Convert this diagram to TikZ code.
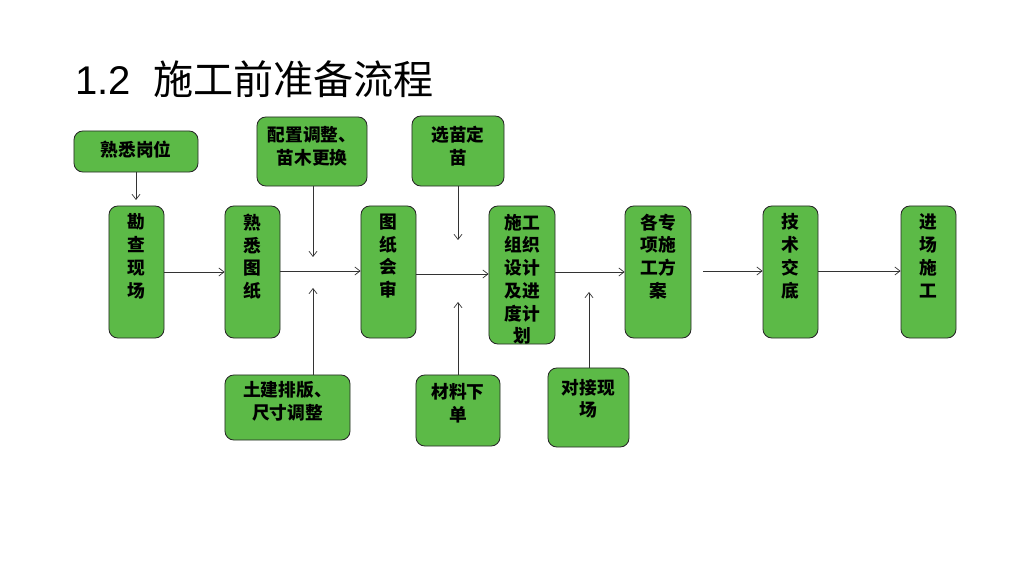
\documentclass[tikz,border=0pt]{standalone}
\usepackage{fontspec}
\setmainfont{Liberation Sans}
\newfontfamily\cjk{Noto Sans CJK SC}
\usetikzlibrary{arrows.meta, positioning}
\definecolor{boxgreen}{RGB}{92,186,71}
\tikzset{
  stepbox/.style n args={2}{
    rectangle, rounded corners=0.22cm,
    minimum width=#1, minimum height=#2,
    draw=black!85, line width=0.6pt, fill=boxgreen
  },
  boxtext/.style={
    anchor=north, align=center, inner sep=0pt,
    font=\cjk\bfseries\fontsize{12.6}{16.2}\selectfont, text=black
  },
  arr/.style={-{Straight Barb[length=1.3mm, width=2mm]}, line width=0.5pt, draw=black!80},
}

\begin{document}
\begin{tikzpicture}[x=0.025cm, y=-0.025cm]
    \useasboundingbox (0,0) rectangle (1024,576);

    % title
    \node[anchor=base west, inner sep=0pt, font=\fontsize{28.5}{34}\selectfont] (title) at (75,95)
         {1.2\ \ {\cjk 施工前准备流程}};

    % main row
    \node[stepbox={1.375cm}{3.3cm}]  (kancha)  at (136.5,272) {};
    \node[stepbox={1.375cm}{3.3cm}]  (shutu)   at (252.5,272) {};
    \node[stepbox={1.375cm}{3.3cm}]  (huishen) at (388.5,272) {};
    \node[stepbox={1.65cm}{3.45cm}]  (zuzhi)   at (522,275)   {};
    \node[stepbox={1.65cm}{3.3cm}]   (fangan)  at (658,272)   {};
    \node[stepbox={1.375cm}{3.3cm}]  (jiaodi)  at (790.5,272) {};
    \node[stepbox={1.375cm}{3.3cm}]  (jinchang) at (928.5,272) {};

    \node[boxtext] (kanchaT)   at ([yshift=-0.2cm]kancha.north)   {勘\\查\\现\\场};
    \node[boxtext] (shutuT)    at ([yshift=-0.2cm]shutu.north)    {熟\\悉\\图\\纸};
    \node[boxtext] (huishenT)  at ([yshift=-0.2cm]huishen.north)  {图\\纸\\会\\审};
    \node[boxtext] (zuzhiT)    at ([yshift=-0.2cm]zuzhi.north)    {施工\\组织\\设计\\及进\\度计\\划};
    \node[boxtext] (fanganT)   at ([yshift=-0.2cm]fangan.north)   {各专\\项施\\工方\\案};
    \node[boxtext] (jiaodiT)   at ([yshift=-0.2cm]jiaodi.north)   {技\\术\\交\\底};
    \node[boxtext] (jinchangT) at ([yshift=-0.2cm]jinchang.north) {进\\场\\施\\工};

    % side boxes
    \node[stepbox={3.1cm}{1.025cm}]   (gangwei) at (136,151.5) {};
    \node[stepbox={2.75cm}{1.725cm}]  (peizhi)  at (312,151.5) {};
    \node[stepbox={2.3cm}{1.75cm}]    (xuanmiao) at (458,151)  {};
    \node[stepbox={3.125cm}{1.625cm}] (tujian)  at (287.5,407.5) {};
    \node[stepbox={2.1cm}{1.775cm}]   (cailiao) at (458,410.5) {};
    \node[stepbox={2.025cm}{1.975cm}] (duijie)  at (588.5,407.5) {};

    \node[boxtext] (gangweiT)  at ([yshift=-0.26cm]gangwei.north)  {熟悉岗位};
    \node[boxtext] (peizhiT)   at ([yshift=-0.24cm]peizhi.north)   {配置调整、\\苗木更换};
    \node[boxtext] (xuanmiaoT) at ([yshift=-0.26cm]xuanmiao.north) {选苗定\\苗};
    \node[boxtext] (tujianT)   at ([yshift=-0.17cm]tujian.north)   {土建排版、\\尺寸调整};
    \node[boxtext] (cailiaoT)  at ([yshift=-0.22cm]cailiao.north)  {材料下\\单};
    \node[boxtext] (duijieT)   at ([yshift=-0.28cm]duijie.north)   {对接现\\场};

    % free ends
    \coordinate (gw)  at (136,200);
    \coordinate (pz)  at (313,257);
    \coordinate (tj)  at (313,288);
    \coordinate (xm)  at (458,240);
    \coordinate (cl)  at (458,302);
    \coordinate (dj)  at (589,292);
    \coordinate (fa)  at (703,271);

    \draw[arr] (gangwei.south) -- (gw);
    \draw[arr] (peizhi.south -| pz) -- (pz);
    \draw[arr] (tujian.north -| tj) -- (tj);
    \draw[arr] (xuanmiao.south) -- (xm);
    \draw[arr] (cailiao.north) -- (cl);
    \draw[arr] (duijie.north -| dj) -- (dj);

    \draw[arr] (kancha.east) -- (shutu.west);
    \draw[arr] ([yshift=0.025cm]shutu.east) -- ([yshift=0.025cm]huishen.west);
    \draw[arr] (huishen.east |- 0,274) -- (zuzhi.west |- 0,274);
    \draw[arr] (zuzhi.east |- fangan.west) -- (fangan.west);
    \draw[arr] (fa) -- (jiaodi.west |- fa);
    \draw[arr] (jiaodi.east |- fa) -- (jinchang.west |- fa);

\end{tikzpicture}
\end{document}
